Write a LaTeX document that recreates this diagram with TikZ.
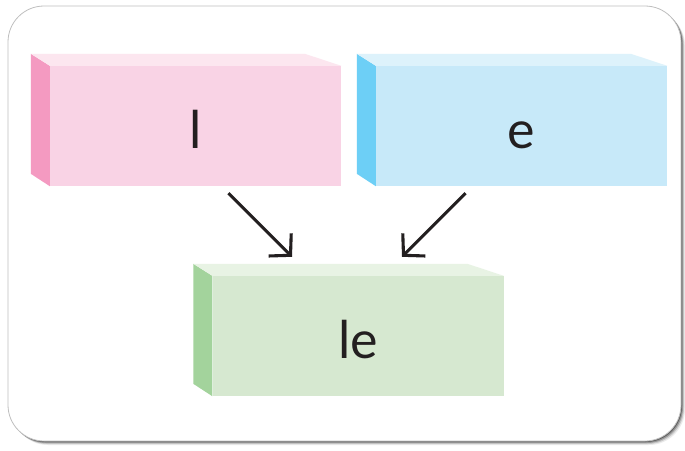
\documentclass[tikz,border=0pt]{standalone}
\usepackage{fontspec}
\setmainfont{Lato}
\usepackage{tikz}
\usetikzlibrary{
    arrows.meta,
    calc,
    positioning
}
\definecolor{ink}{HTML}{231F20}
\definecolor{pinkfront}{HTML}{F9D3E5}
\definecolor{pinkside}{HTML}{F49AC1}
\definecolor{pinktop}{HTML}{FCE6EF}
\definecolor{bluefront}{HTML}{C7E9F9}
\definecolor{blueside}{HTML}{6DCFF6}
\definecolor{bluetop}{HTML}{DDF2FB}
\definecolor{greenfront}{HTML}{D6E8D0}
\definecolor{greenside}{HTML}{A3D39C}
\definecolor{greentop}{HTML}{E8F3E4}
\tikzset{brick/.style={inner sep=0pt, minimum width=291pt, minimum height=120pt,
        text height=44pt, text depth=0pt, text=ink, font=\fontsize{52}{52}\selectfont},
    arr/.style={draw=ink, line width=3.1pt,
        -{Straight Barb[length=15pt,width=32pt,line join=miter]}}}

\begin{document}
\begin{tikzpicture}[x=1pt, y=-1pt]
                                            \useasboundingbox (0, 0) rectangle (685, 450);
                                            % frame with shadow
                                            \foreach \s/\o in {4/0.08, 3/0.15, 2/0.25, 1/0.38}
                                                \fill[black, opacity=\o, rounded corners=36pt]
                                                    (8+\s, 6+\s) rectangle (681+\s, 441+\s);
                                            \draw[black!25, fill=white, line width=0.8pt, rounded corners=36pt]
                                                (8, 6) rectangle (681, 441);
                                            % bricks
                                            \node[brick, fill=pinkfront] (l) at (195.5, 126) {l};
                                            \node[brick, fill=bluefront] (e) at (521.5, 126) {e};
                                            \node[brick, fill=greenfront] (le) at (358, 336) {le};
                                            \foreach \b/\c in {l/pink, e/blue, le/green} {
                                                \fill[\c side] (\b.north west) -- ++(-19, -12) -- ++(0, 120) -- (\b.south west) -- cycle;
                                                \fill[\c top] (\b.north west) -- ++(-19, -12) -- ++(274, 0) -- (\b.north east) -- cycle;
                                            }
                                            \draw[arr] ($(l.south)+(33, 7)$) -- ($(le.north)+(-66, -19)$);
                                            \draw[arr] ($(e.south)+(-56, 7)$) -- ($(le.north)+(44, -19)$);
                                        \end{tikzpicture}
\end{document}
